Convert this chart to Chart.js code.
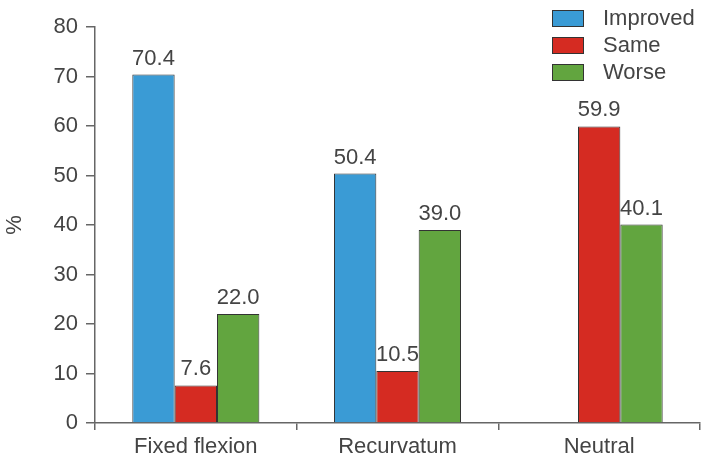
<!DOCTYPE html>
<html>
<head>
<meta charset="utf-8">
<script src="https://cdn.jsdelivr.net/npm/chart.js@4.4.0/dist/chart.umd.min.js"></script>
<style>
  html, body { margin: 0; padding: 0; background: #fff; }
  #wrap { width: 712px; height: 458px; }
</style>
</head>
<body>
<div id="wrap"><canvas id="chart" width="712" height="458"></canvas></div>
<script>
const categories = ['Fixed flexion', 'Recurvatum', 'Neutral'];
const improved = [70.4, 50.4, null];
const same = [7.6, 10.5, 59.9];
const worse = [22.0, 39.0, 40.1];
const yTicks = [0, 10, 20, 30, 40, 50, 60, 70, 80];

const textColor = '#444';
const axisColor = '#666';
const fontCss = '22px "Liberation Sans", Arial, sans-serif';
const font = { family: '"Liberation Sans", Arial, sans-serif', size: 22 };

// value labels on top of each bar
const valueLabels = {
  id: 'valueLabels',
  afterDatasetsDraw(chart) {
    const ctx = chart.ctx;
    ctx.save();
    ctx.font = fontCss;
    ctx.fillStyle = textColor;
    ctx.textAlign = 'center';
    ctx.textBaseline = 'alphabetic';
    chart.data.datasets.forEach((ds, i) => {
      chart.getDatasetMeta(i).data.forEach((bar, j) => {
        const v = ds.data[j];
        if (v === null || v === undefined) return;
        ctx.fillText(v.toFixed(1), bar.x, bar.y - 10);
      });
    });
    ctx.restore();
  }
};

// legend box in the top right corner
const cornerLegend = {
  id: 'cornerLegend',
  afterDraw(chart) {
    const ctx = chart.ctx;
    ctx.save();
    ctx.font = fontCss;
    ctx.textBaseline = 'middle';
    ctx.textAlign = 'left';
    chart.data.datasets.forEach((ds, i) => {
      const y = 10 + i * 27;
      ctx.fillStyle = ds.backgroundColor;
      ctx.fillRect(552, y, 32, 17);
      ctx.strokeStyle = '#333';
      ctx.lineWidth = 1;
      ctx.strokeRect(552.5, y + 0.5, 31, 16);
      ctx.fillStyle = textColor;
      ctx.fillText(ds.label, 603, y + 9);
    });
    ctx.restore();
  }
};

new Chart(document.getElementById('chart'), {
  type: 'bar',
  data: {
    labels: categories,
    datasets: [
      { label: 'Improved', data: improved, backgroundColor: '#3a9bd5', borderColor: '#333', borderWidth: 1 },
      { label: 'Same', data: same, backgroundColor: '#d52b22', borderColor: '#333', borderWidth: 1 },
      { label: 'Worse', data: worse, backgroundColor: '#62a53f', borderColor: '#333', borderWidth: 1 }
    ]
  },
  options: {
    responsive: false,
    animation: false,
    layout: { padding: { left: 0, top: 27, right: 12, bottom: 0 } },
    datasets: { bar: { barPercentage: 1.0, categoryPercentage: 0.63 } },
    plugins: {
      legend: { display: false },
      tooltip: { enabled: false }
    },
    scales: {
      x: {
        offset: true,
        afterFit(scale) { scale.height = 35; },
        grid: { offset: true, drawOnChartArea: false, color: axisColor, tickLength: 7, lineWidth: 1.5 },
        border: { color: axisColor, width: 1.5 },
        ticks: { color: textColor, font: font, padding: 4, maxRotation: 0 }
      },
      y: {
        min: 0,
        max: 80,
        afterFit(scale) { scale.width = 95; },
        afterBuildTicks(scale) { scale.ticks = yTicks.map(v => ({ value: v })); },
        grid: { drawOnChartArea: false, color: axisColor, tickLength: 9, lineWidth: 1.5 },
        border: { color: axisColor, width: 1.5 },
        ticks: { color: textColor, font: font, padding: 8 },
        title: { display: true, text: '%', color: textColor, font: font, padding: { top: 2, bottom: 0 } }
      }
    }
  },
  plugins: [valueLabels, cornerLegend]
});
</script>
</body>
</html>
